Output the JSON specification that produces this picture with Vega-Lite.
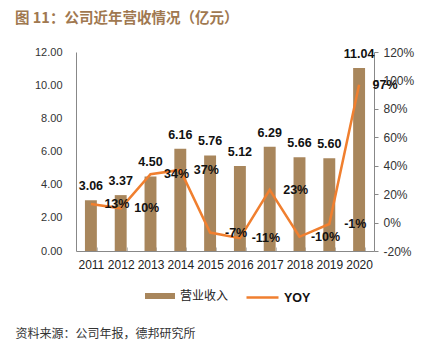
{
  "$schema": "https://vega.github.io/schema/vega-lite/v6.json",
  "width": 298,
  "height": 199,
  "autosize": {"type": "none"},
  "padding": {"left": 76, "top": 52, "right": 60, "bottom": 101},
  "background": "white",
  "title": {
    "text": "图 11：公司近年营收情况（亿元）",
    "anchor": "start",
    "frame": "group",
    "dx": -61,
    "offset": 20,
    "font": "Noto Sans CJK SC",
    "fontSize": 14.5,
    "fontWeight": "bold",
    "color": "#A07850"
  },
  "data": {
    "values": [
      {"year": "2011", "rev": 3.06, "yoy": 0.13},
      {"year": "2012", "rev": 3.37, "yoy": 0.10},
      {"year": "2013", "rev": 4.50, "yoy": 0.34},
      {"year": "2014", "rev": 6.16, "yoy": 0.37},
      {"year": "2015", "rev": 5.76, "yoy": -0.07},
      {"year": "2016", "rev": 5.12, "yoy": -0.11},
      {"year": "2017", "rev": 6.29, "yoy": 0.23},
      {"year": "2018", "rev": 5.66, "yoy": -0.10},
      {"year": "2019", "rev": 5.60, "yoy": -0.01},
      {"year": "2020", "rev": 11.04, "yoy": 0.97}
    ]
  },
  "layer": [
    {
      "layer": [
        {
          "mark": {"type": "bar"},
          "encoding": {
            "x": {
              "field": "year",
              "type": "ordinal",
              "scale": {"paddingInner": 0.6, "paddingOuter": 0.3},
              "axis": {
                "labelAngle": 0,
                "labelFont": "Liberation Sans",
                "labelFontSize": 12,
                "labelColor": "#222",
                "labelOverlap": false,
                "labelPadding": 12,
                "tickBand": "extent",
                "tickSize": -4,
                "tickColor": "#bbbbbb",
                "domainColor": "#888888",
                "title": "资料来源：公司年报，德邦研究所",
                "titleX": -61,
                "titleY": 82,
                "titleAlign": "left",
                "titleAnchor": "start",
                "titleBaseline": "middle",
                "titleFont": "Noto Sans CJK SC",
                "titleFontSize": 12,
                "titleFontWeight": "normal",
                "titleColor": "#333333"
              }
            },
            "y": {
              "field": "rev",
              "type": "quantitative",
              "scale": {"domain": [0, 12], "nice": false},
              "axis": {
                "orient": "left",
                "values": [0, 2, 4, 6, 8, 10, 12],
                "tickCount": 10,
                "format": ".2f",
                "grid": false,
                "ticks": false,
                "labelOverlap": false,
                "labelPadding": 14,
                "labelFont": "Liberation Sans",
                "labelFontSize": 11,
                "labelColor": "#333333",
                "domainColor": "#888888",
                "title": null
              }
            },
            "fill": {
              "datum": "营业收入",
              "scale": {"range": ["#A8865C"]},
              "legend": {
                "orient": "none",
                "legendX": 69,
                "legendY": 229,
                "title": null,
                "padding": 0,
                "symbolType": "M-1,-0.2H1V0.2H-1Z",
                "symbolSize": 900,
                "symbolStrokeWidth": 0,
                "labelOffset": 5,
                "labelFont": "Noto Sans CJK SC",
                "labelFontSize": 12,
                "labelColor": "#222222"
              }
            }
          }
        },
        {
          "mark": {"type": "text", "dy": -14, "font": "Liberation Sans", "fontSize": 12.5, "fontWeight": "bold", "color": "#111111"},
          "encoding": {
            "x": {"field": "year", "type": "ordinal"},
            "y": {"field": "rev", "type": "quantitative"},
            "text": {"field": "rev", "type": "quantitative", "format": ".2f"}
          }
        }
      ]
    },
    {
      "layer": [
        {
          "mark": {"type": "line", "strokeWidth": 2.5},
          "encoding": {
            "x": {"field": "year", "type": "ordinal"},
            "y": {
              "field": "yoy",
              "type": "quantitative",
              "scale": {"domain": [-0.2, 1.2], "nice": false, "zero": false},
              "axis": {
                "orient": "right",
                "values": [-0.2, 0, 0.2, 0.4, 0.6, 0.8, 1.0, 1.2],
                "tickCount": 10,
                "format": ".0%",
                "grid": false,
                "labelOverlap": false,
                "tickSize": 4,
                "tickColor": "#888888",
                "labelPadding": 5,
                "labelFont": "Liberation Sans",
                "labelFontSize": 12,
                "labelColor": "#333333",
                "domainColor": "#888888",
                "title": null
              }
            },
            "stroke": {
              "datum": "YOY",
              "scale": {"range": ["#F07F2F"]},
              "legend": {
                "orient": "none",
                "legendX": 169,
                "legendY": 228,
                "title": null,
                "padding": 0,
                "symbolType": "stroke",
                "symbolSize": 1024,
                "symbolStrokeWidth": 2.5,
                "labelOffset": 4,
                "labelFont": "Liberation Sans",
                "labelFontSize": 12.5,
                "labelFontWeight": "bold",
                "labelColor": "#111111"
              }
            }
          }
        },
        {
          "mark": {"type": "text", "dx": 26, "font": "Liberation Sans", "fontSize": 12.5, "fontWeight": "bold", "color": "#111111"},
          "encoding": {
            "x": {"field": "year", "type": "ordinal"},
            "y": {"field": "yoy", "type": "quantitative"},
            "text": {"field": "yoy", "type": "quantitative", "format": ".0%"}
          }
        }
      ]
    }
  ],
  "resolve": {"scale": {"y": "independent"}},
  "config": {
    "view": {"stroke": null},
    "locale": {
      "number": {"decimal": ".", "thousands": ",", "grouping": [3], "currency": ["", ""], "minus": "-"}
    }
  }
}
